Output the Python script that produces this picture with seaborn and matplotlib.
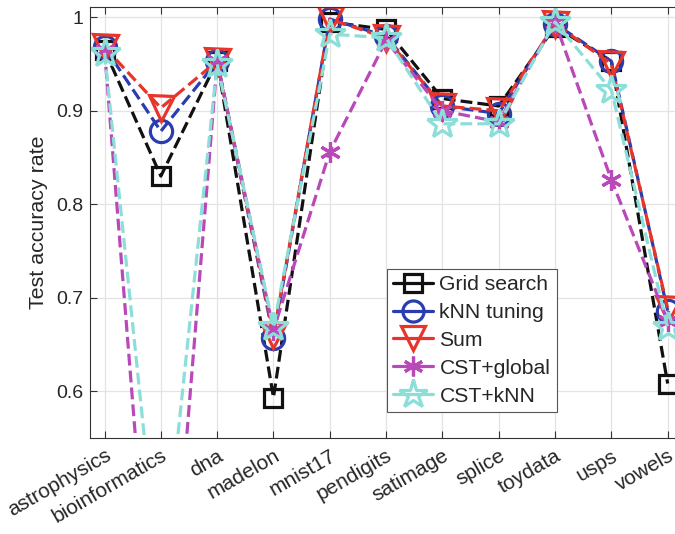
import matplotlib
matplotlib.use("Agg")
import matplotlib.pyplot as plt
from matplotlib.lines import Line2D
from matplotlib.ticker import FormatStrFormatter
import seaborn as sns
import numpy as np

categories = ["astrophysics", "bioinformatics", "dna", "madelon", "mnist17", "pendigits",
              "satimage", "splice", "toydata", "usps", "vowels"]
grid_search = [0.965, 0.830, 0.953, 0.593, 0.995, 0.987, 0.913, 0.905, 0.990, 0.953, 0.608]
knn_tuning  = [0.968, 0.878, 0.953, 0.657, 0.998, 0.980, 0.905, 0.897, 0.993, 0.953, 0.686]
sum_method  = [0.968, 0.903, 0.953, 0.660, 0.998, 0.978, 0.905, 0.900, 0.993, 0.950, 0.688]
cst_global  = [0.965, 0.210, 0.953, 0.665, 0.856, 0.975, 0.900, 0.888, 0.995, 0.826, 0.675]
cst_knn     = [0.962, 0.380, 0.950, 0.668, 0.982, 0.978, 0.886, 0.886, 0.995, 0.922, 0.668]
series_names = ["Grid search", "kNN tuning", "Sum", "CST+global", "CST+kNN"]
y_ticks = [0.6, 0.7, 0.8, 0.9, 1.0]

sns.set_theme(style="ticks")
plt.rcParams["font.family"] = ["Liberation Sans", "DejaVu Sans"]

fig = plt.figure(figsize=(6.75, 5.34), dpi=100)
ax = fig.add_axes([0.134, 0.1803, 0.876, 0.8066])

x = np.arange(len(categories))
styles = [
    dict(color="#111111", marker="s", ms=13),
    dict(color="#2B3DAE", marker="o", ms=16),
    dict(color="#E8352B", marker="v", ms=18),
    dict(color="#B948B9", marker=(6, 2, 0), ms=15),
    dict(color="#8CDED9", marker="*", ms=22),
]
data = [grid_search, knn_tuning, sum_method, cst_global, cst_knn]
handles = []
for name, vals, st in zip(series_names, data, styles):
    sns.lineplot(x=x, y=vals, ax=ax, color=st["color"], linestyle="--", linewidth=2.3,
                 marker=st["marker"], markersize=st["ms"], markerfacecolor="none",
                 markeredgecolor=st["color"], markeredgewidth=2.3, dashes=False,
                 sort=False, estimator=None, legend=False)
    handles.append(Line2D([], [], color=st["color"], linestyle="-", linewidth=2.3,
                          marker=st["marker"], markersize=st["ms"] * 0.95,
                          markerfacecolor="none", markeredgecolor=st["color"],
                          markeredgewidth=2.3))

ax.set_xlim(-0.25, 10.25)
ax.set_ylim(0.55, 1.011)
ax.set_xticks(x)
ax.set_xticklabels(categories, rotation=30, ha="right", rotation_mode="anchor", fontsize=15)
ax.set_yticks(y_ticks)
ax.yaxis.set_major_formatter(FormatStrFormatter("%g"))
ax.tick_params(axis="y", labelsize=14, pad=5)
ax.tick_params(axis="x", pad=6)
ax.tick_params(direction="in", length=5, width=0.8, color="#333333", top=True)
ax.grid(True, color="#E3E3E3", linewidth=0.9)
ax.set_axisbelow(True)
for sp in ax.spines.values():
    sp.set_color("#333333")
    sp.set_linewidth(0.8)
ax.set_ylabel("Test accuracy rate", fontsize=15.4, labelpad=6)
ax.set_xlabel("")

leg = ax.legend(handles, series_names, loc="lower left", bbox_to_anchor=(0.501, 0.06),
                borderaxespad=0, fontsize=15.2, frameon=True, fancybox=False,
                edgecolor="#555555", framealpha=1, handlelength=1.9, labelspacing=0.42,
                handletextpad=0.3, borderpad=0.3)
leg.get_frame().set_linewidth(0.8)

fig.savefig("out.png", dpi=100)
